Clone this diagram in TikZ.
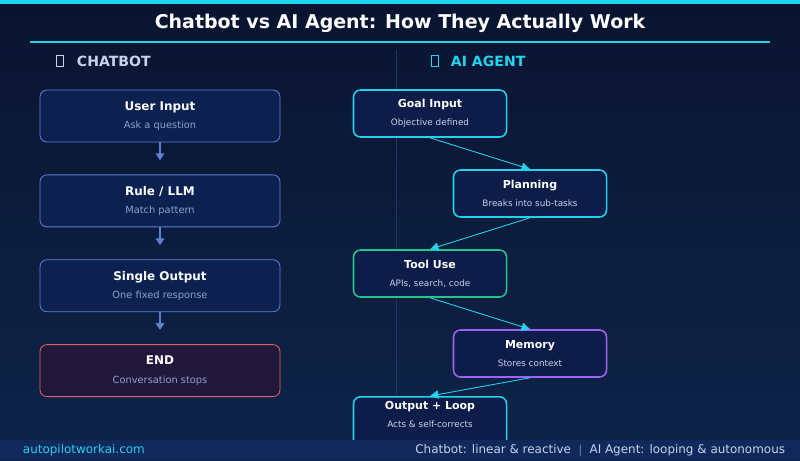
\documentclass[tikz,border=0pt]{standalone}
\usepackage{fontspec}
\setmainfont{DejaVu Sans}
\usepackage{tikz}
\usetikzlibrary{positioning,arrows.meta,shapes}
\definecolor{bgtop}{HTML}{0A1430}
\definecolor{bgbot}{HTML}{0E2448}
\definecolor{cyanc}{HTML}{22D3EE}
\definecolor{slate}{HTML}{5B7FD6}
\definecolor{boxfill}{HTML}{0C2150}
\definecolor{agfill}{HTML}{0D1C48}
\definecolor{endfill}{HTML}{21173A}
\definecolor{endline}{HTML}{E0606A}
\definecolor{greenc}{HTML}{22C58A}
\definecolor{purplec}{HTML}{A062F0}
\definecolor{subtxt}{HTML}{8EA2C8}
\definecolor{footbg}{HTML}{10295A}
\definecolor{foottxt}{HTML}{C8D4EC}
\definecolor{divider}{HTML}{1F3766}
\begin{document}
\begin{tikzpicture}[x=0.025cm,y=-0.025cm,
    chat/.style={draw=slate, fill=boxfill, rounded corners=5pt, line width=0.6pt, minimum width=6cm, minimum height=1.3cm, align=center, text=white, font=\bfseries\fontsize{8.5}{10}\selectfont},
    agent/.style={draw=#1, fill=agfill, rounded corners=5pt, line width=1.1pt, minimum width=3.825cm, minimum height=1.175cm, align=center, text=white, font=\bfseries\fontsize{7.8}{9}\selectfont},
    chatarrow/.style={-{Triangle[length=5pt,width=6pt]}, draw=slate, fill=slate, line width=1.2pt},
    flow/.style={-{Triangle[length=6pt,width=6pt]}, draw=cyanc, fill=cyanc, line width=0.6pt}]
\useasboundingbox (0,0) rectangle (800,460);
% background
\shade[top color=bgtop, bottom color=bgbot] (0,0) rectangle (800,460);
\foreach \gx in {0,40,...,800}
  \foreach \gy in {44,84,...,440}
    \fill[slate!40, opacity=0.5] (\gx,\gy) circle (0.3pt);
\fill[cyanc] (0,0) rectangle (800,4);
% title
\node[text=white, font=\bfseries\fontsize{13.5}{16}\selectfont] (title) at (400,23) {Chatbot vs AI Agent: How They Actually Work};
\draw[cyanc, line width=0.8pt] (30,42) -- (770,42);
\draw[divider, line width=0.6pt] (396,50) -- (396,440);
% headings
\draw[foottxt, line width=0.5pt] (56,55) rectangle (63,66);
\node[anchor=west, text=foottxt, font=\bfseries\fontsize{10}{12}\selectfont] (hchat) at (72,61) {CHATBOT};
\draw[cyanc, line width=0.5pt] (431,55) rectangle (438,66);
\node[anchor=west, text=cyanc, font=\bfseries\fontsize{10}{12}\selectfont] (hagent) at (446,61) {AI AGENT};
% chatbot column
\node[chat] (user) at (160,116) {User Input\\[3pt]{\normalfont\color{subtxt}\fontsize{7}{9}\selectfont Ask a question}};
\node[chat, below=0.8cm of user] (rule) {Rule / LLM\\[3pt]{\normalfont\color{subtxt}\fontsize{7}{9}\selectfont Match pattern}};
\node[chat, below=0.8cm of rule] (single) {Single Output\\[3pt]{\normalfont\color{subtxt}\fontsize{7}{9}\selectfont One fixed response}};
\node[chat, draw=endline, fill=endfill, below=0.8cm of single] (end) {END\\[3pt]{\normalfont\color{subtxt}\fontsize{7}{9}\selectfont Conversation stops}};
\draw[chatarrow] (user.south) -- ++(0,18);
\draw[chatarrow] (rule.south) -- ++(0,18);
\draw[chatarrow] (single.south) -- ++(0,18);
% agent column
\node[agent=cyanc] (goal) at (430,113.5) {Goal Input\\[4pt]{\normalfont\color{foottxt}\fontsize{6.3}{8}\selectfont Objective defined}};
\node[agent=cyanc] (plan) at (530,193.5) {Planning\\[4pt]{\normalfont\color{foottxt}\fontsize{6.3}{8}\selectfont Breaks into sub-tasks}};
\node[agent=greenc] (tool) at (430,273.5) {Tool Use\\[4pt]{\normalfont\color{foottxt}\fontsize{6.3}{8}\selectfont APIs, search, code}};
\node[agent=purplec] (memory) at (530,353.5) {Memory\\[4pt]{\normalfont\color{foottxt}\fontsize{6.3}{8}\selectfont Stores context}};
\node[agent=cyanc, anchor=north] (output) at (430,396) {Output + Loop\\[4pt]{\normalfont\color{foottxt}\fontsize{6.3}{8}\selectfont Acts \& self-corrects}\\[4pt]};
\draw[flow] (goal.south) -- (plan.north);
\draw[flow] (plan.south) -- (tool.north);
\draw[flow] (tool.south) -- (memory.north);
\draw[flow] (memory.south) -- (output.north);
% footer
\fill[footbg] (0,440) rectangle (800,460);
\node[anchor=west, text=cyanc, font=\fontsize{8.5}{10}\selectfont] (site) at (18,450) {autopilotworkai.com};
\node[anchor=east, text=foottxt, font=\fontsize{8.5}{10}\selectfont] (summary) at (790,450) {Chatbot: linear \& reactive \ $|$ \ AI Agent: looping \& autonomous};
\end{tikzpicture}
\end{document}
